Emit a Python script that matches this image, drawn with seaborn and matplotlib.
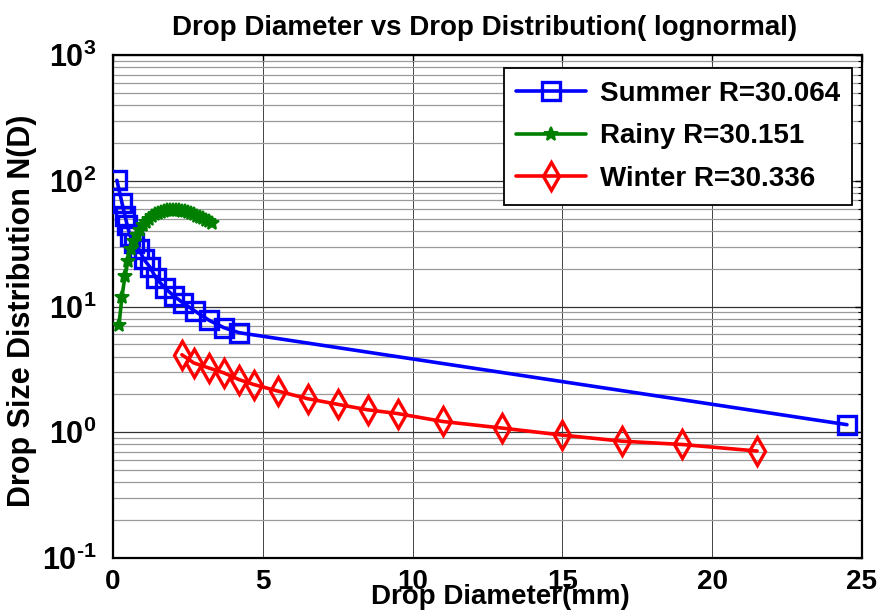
import matplotlib
matplotlib.use("Agg")
import matplotlib.pyplot as plt
from matplotlib import font_manager
from matplotlib.ticker import LogLocator, FixedLocator, FixedFormatter, NullFormatter
import seaborn as sns
import pandas as pd

# Summer season drop size distribution
summer_d = [0.13, 0.30, 0.40, 0.47, 0.57, 0.70, 0.87, 1.03, 1.24, 1.44,
            1.74, 2.04, 2.34, 2.74, 3.20, 3.70, 4.21, 24.5]
summer_n = [101, 66.7, 52.9, 44.8, 36.6, 32.3, 28.5, 23.8, 20.5, 16.8,
            14.0, 12.1, 10.7, 9.2, 7.8, 6.8, 6.2, 1.15]

# Rainy season drop size distribution
rainy_d = [0.2, 0.3, 0.4, 0.5, 0.6, 0.7, 0.8, 0.9, 1.0, 1.1, 1.2, 1.3, 1.4,
           1.5, 1.6, 1.7, 1.8, 1.9, 2.0, 2.1, 2.2, 2.3, 2.4, 2.5, 2.6, 2.7,
           2.8, 2.9, 3.0, 3.1, 3.2, 3.3]
rainy_n = [7.2, 12, 17.5, 23, 28.5, 33, 37, 41, 44.5, 47.5, 50, 52.5, 54.5,
           56, 57, 58, 58.5, 59, 59, 59, 58.5, 58, 57.5, 56.5, 55.5, 54.5,
           53, 52, 50.5, 49, 48, 46.5]

# Winter season drop size distribution
winter_d = [2.3, 2.7, 3.2, 3.7, 4.2, 4.7, 5.5, 6.5, 7.5, 8.5, 9.5, 11,
            13, 15, 17, 19, 21.5]
winter_n = [4.14, 3.56, 3.25, 2.97, 2.63, 2.40, 2.13, 1.85, 1.67, 1.51,
            1.41, 1.22, 1.08, 0.95, 0.85, 0.80, 0.71]

series_labels = ["Summer R=30.064", "Rainy R=30.151", "Winter R=30.336"]
x_ticks = [0, 5, 10, 15, 20, 25]
y_ticks = [0.1, 1, 10, 100, 1000]
y_tick_labels = [r"$10^{\text{-}1}$", "$10^{0}$", "$10^{1}$", "$10^{2}$", "$10^{3}$"]

sns.set_style("white")
installed = {f.name for f in font_manager.fontManager.ttflist}
base = "Liberation Sans" if "Liberation Sans" in installed else "DejaVu Sans"
plt.rcParams["font.family"] = [base, "DejaVu Sans"]
plt.rcParams["font.weight"] = "bold"
plt.rcParams["text.color"] = "black"
plt.rcParams["xtick.color"] = "black"
plt.rcParams["ytick.color"] = "black"
plt.rcParams["axes.labelcolor"] = "black"
plt.rcParams["mathtext.fontset"] = "custom"
plt.rcParams["mathtext.rm"] = base + ":bold"
plt.rcParams["mathtext.it"] = base + ":bold"
plt.rcParams["mathtext.bf"] = base + ":bold"

fig = plt.figure(figsize=(8.78, 6.11), dpi=100)
ax = fig.add_axes([0.1287, 0.0867, 0.853, 0.823])

ax.set_yscale("log")

df_s = pd.DataFrame({"d": summer_d, "n": summer_n})
df_r = pd.DataFrame({"d": rainy_d, "n": rainy_n})
df_w = pd.DataFrame({"d": winter_d, "n": winter_n})

sns.lineplot(data=df_s, x="d", y="n", ax=ax, sort=False, color="#0000ff",
             linewidth=2.6, marker="s", markersize=13, markerfacecolor="none",
             markeredgecolor="#0000ff", markeredgewidth=2.4,
             label=series_labels[0], zorder=4)
sns.lineplot(data=df_r, x="d", y="n", ax=ax, sort=False, color="#007f00",
             linewidth=2.6, marker="*", markersize=10,
             markerfacecolor="#007f00", markeredgecolor="#007f00",
             markeredgewidth=1.4, label=series_labels[1], zorder=5)
sns.lineplot(data=df_w, x="d", y="n", ax=ax, sort=False, color="#ff0000",
             linewidth=2.6, marker="d", markersize=14, markerfacecolor="none",
             markeredgecolor="#ff0000", markeredgewidth=2.4,
             label=series_labels[2], zorder=3)

ax.set_xlim(0, 25)
ax.set_ylim(0.1, 1000)

ax.xaxis.set_major_locator(FixedLocator(x_ticks))
ax.set_xticklabels([str(t) for t in x_ticks], fontsize=20, fontweight="bold")
ax.yaxis.set_major_locator(FixedLocator(y_ticks))
ax.yaxis.set_major_formatter(FixedFormatter(y_tick_labels))
ax.yaxis.set_minor_locator(LogLocator(base=10, subs=range(2, 10), numticks=20))
ax.yaxis.set_minor_formatter(NullFormatter())
for lab in ax.get_yticklabels():
    lab.set_fontsize(22)

ax.tick_params(axis="both", which="both", direction="in", top=True, right=True,
               colors="black")
ax.tick_params(axis="both", which="major", length=5, width=1.0)
ax.tick_params(axis="y", which="minor", length=3, width=0.8)
ax.tick_params(axis="x", pad=8)
ax.tick_params(axis="y", pad=12)

ax.grid(True, which="major", axis="x", color="#444444", linewidth=0.7)
ax.grid(True, which="major", axis="y", color="#333333", linewidth=0.9)
ax.grid(True, which="minor", axis="y", color="#9a9a9a", linewidth=0.9)
ax.set_axisbelow(True)
for sp in ax.spines.values():
    sp.set_visible(True)
    sp.set_color("black")
    sp.set_linewidth(1.6)

ax.set_xlabel("")
ax.set_ylabel("")
fig.text(0.5524, 1 - 28 / 611, "Drop Diameter vs Drop Distribution( lognormal)",
         ha="center", va="center", fontsize=20, fontweight="bold", color="black")
fig.text(22 / 878, 1 - 311 / 611, "Drop Size Distribution N(D)", rotation=90,
         ha="center", va="center", fontsize=22, fontweight="bold", color="black")
fig.text(500 / 878, 1 - 597 / 611, "Drop Diameter(mm)", ha="center",
         va="center", fontsize=20, fontweight="bold", color="black")

leg = ax.legend(loc="upper right", bbox_to_anchor=(0.987, 0.974),
                fontsize=20, frameon=True, fancybox=False, edgecolor="black",
                framealpha=1, handlelength=2.5, labelspacing=0.6,
                borderpad=0.45, handletextpad=0.5, borderaxespad=0)
leg.get_frame().set_linewidth(1.3)
for t in leg.get_texts():
    t.set_fontweight("bold")
    t.set_color("black")

fig.savefig("out.png", dpi=100)
